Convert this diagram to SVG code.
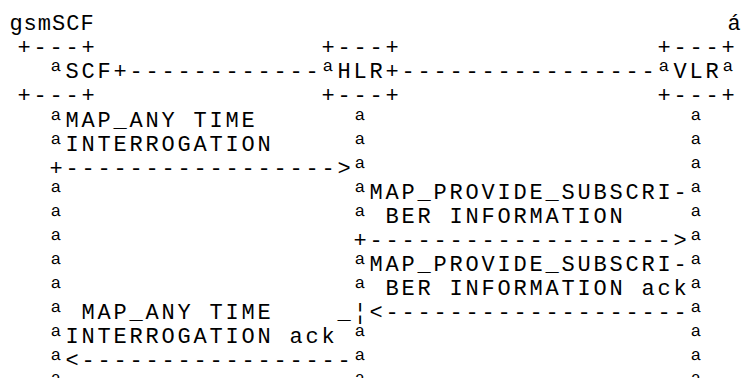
<svg xmlns="http://www.w3.org/2000/svg" width="746" height="378" viewBox="0 0 746 378" xml:space="preserve">
<style>
text{font-family:"Liberation Mono","DejaVu Sans Mono",monospace;font-size:22px;letter-spacing:2.8px;fill:#000}
.h{letter-spacing:1px}
</style>
<rect width="746" height="378" fill="#fff"/>
<g id="title">
<text class="h" x="9.4" y="30">gsmSCF</text>
<text x="727.4" y="30">á</text>
</g>
<g id="node-SCF">
<text x="17.4" y="54">+---+</text>
<text x="49.4" y="78">ªSCF+</text>
<text x="17.4" y="102">+---+</text>
</g>
<g id="node-HLR">
<text x="321.4" y="54">+---+</text>
<text x="321.4" y="78">ªHLR+</text>
<text x="321.4" y="102">+---+</text>
</g>
<g id="node-VLR">
<text x="657.4" y="54">+---+</text>
<text x="657.4" y="78">ªVLRª</text>
<text x="657.4" y="102">+---+</text>
</g>
<g id="connectors">
<text x="129.4" y="78">------------</text>
<text x="401.4" y="78">----------------</text>
<text x="49.4" y="175">+-----------------&gt;ª</text>
<text x="353.4" y="247">+-------------------&gt;ª</text>
<text x="337.4" y="319">_¦&lt;-------------------ª</text>
<text x="49.4" y="367">ª&lt;-----------------ª</text>
</g>
<g id="lifelines">
<text x="353.4" y="127">ª</text><text x="689.4" y="127">ª</text>
<text x="353.4" y="151">ª</text><text x="689.4" y="151">ª</text>
<text x="689.4" y="175">ª</text>
<text x="49.4" y="199">ª</text><text x="353.4" y="199">ª</text><text x="689.4" y="199">ª</text>
<text x="49.4" y="223">ª</text><text x="353.4" y="223">ª</text><text x="689.4" y="223">ª</text>
<text x="49.4" y="247">ª</text>
<text x="49.4" y="271">ª</text><text x="353.4" y="271">ª</text><text x="689.4" y="271">ª</text>
<text x="49.4" y="295">ª</text><text x="353.4" y="295">ª</text><text x="689.4" y="295">ª</text>
<text x="49.4" y="319">ª</text>
<text x="353.4" y="343">ª</text><text x="689.4" y="343">ª</text>
<text x="689.4" y="367">ª</text>
<text x="49.4" y="390">ª</text><text x="353.4" y="390">ª</text><text x="689.4" y="390">ª</text>
</g>
<g id="labels">
<text x="49.4" y="127">ªMAP_ANY TIME</text>
<text x="49.4" y="151">ªINTERROGATION</text>
<text x="369.4" y="199">MAP_PROVIDE_SUBSCRI-</text>
<text x="385.4" y="223">BER INFORMATION</text>
<text x="369.4" y="271">MAP_PROVIDE_SUBSCRI-</text>
<text x="385.4" y="295">BER INFORMATION ack</text>
<text x="81.4" y="319">MAP_ANY TIME</text>
<text x="49.4" y="343">ªINTERROGATION ack</text>
</g>
</svg>
